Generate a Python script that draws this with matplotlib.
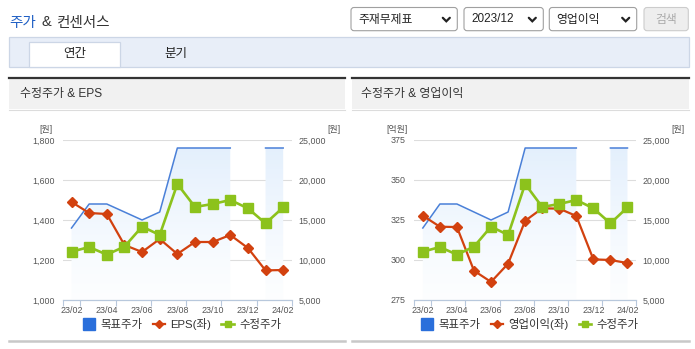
"""
Adjusted price vs. consensus dashboard: two panels comparing the adjusted
stock price and target price with EPS and operating profit.
"""

import matplotlib

matplotlib.use("Agg")
import matplotlib.pyplot as plt
import numpy as np
from matplotlib.lines import Line2D
from matplotlib.patches import FancyBboxPatch, Rectangle
from matplotlib.path import Path

plt.rcParams["font.family"] = ["Liberation Sans", "Noto Sans CJK KR", "DejaVu Sans"]

W, H = 695, 349

months = ["23/02", "23/03", "23/04", "23/05", "23/06", "23/07", "23/08",
          "23/09", "23/10", "23/11", "23/12", "24/01", "24/02"]

# right axis (원)
target_price = [14000, 17000, 17000, 16000, 15000, 16000, 24000,
                24000, 24000, 24000, np.nan, 24000, 24000]
adj_price = [11040, 11620, 10670, 11670, 14170, 13130, 19500,
             16630, 17000, 17500, 16460, 14580, 16580]

# left axis values
eps = [1490, 1435, 1430, 1275, 1240, 1305, 1230, 1290, 1290, 1325, 1260, 1148, 1150]
op_profit = [327.7, 320.8, 320.6, 293.3, 286.3, 297.7, 324.5,
             332.3, 332.1, 327.5, 300.4, 300.0, 298.1]

BLUE = "#4a80d8"
RED = "#d2410f"
GREEN = "#8cc21c"
TICK_GRAY = "#555555"
AXIS_LINE = "#b8c8dc"


def px_rect(x0, y0, x1, y1):
    return [x0 / W, 1 - y1 / H, (x1 - x0) / W, (y1 - y0) / H]


def draw_chart(fig, ui, x0, x1, left_vals, left_ticks, left_unit, left_name):
    ax = fig.add_axes(px_rect(x0, 140, x1, 300))
    ax2 = ax.twinx()
    x = np.arange(len(months))
    tr = ax2.transData

    # target price area with a soft vertical gradient
    area = ax.fill_between(x, target_price, 5000, transform=tr,
                           facecolor="none", edgecolor="none", zorder=1)
    grad = np.linspace(0, 1, 256)[:, None, None]
    top = np.array([0.885, 0.935, 0.99])
    bottom = np.array([0.99, 0.995, 1.0])
    img = bottom * (1 - grad ** 1.3) + top * grad ** 1.3
    im = ax.imshow(img, extent=(-0.5, 12.5, left_ticks[0], left_ticks[-1]),
                   origin="lower", aspect="auto", zorder=1, interpolation="bilinear")
    im.set_clip_path(Path.make_compound_path(*area.get_paths()), tr)
    ax.plot(x, target_price, color=BLUE, lw=1.1, transform=tr, zorder=2)

    ax.plot(x, left_vals, color=RED, lw=1.6, marker="D", markersize=4.6, zorder=3)
    ax2.plot(x, adj_price, color=GREEN, lw=1.9, marker="s", markersize=7)

    ax.set_xlim(-0.5, 12.5)
    ax.set_ylim(left_ticks[0], left_ticks[-1])
    ax2.set_ylim(5000, 25000)

    ax.set_yticks(left_ticks)
    ax.set_yticklabels([f"{v:,}" for v in left_ticks])
    ax2.set_yticks([5000, 10000, 15000, 20000, 25000])
    ax2.set_yticklabels([f"{v:,}" for v in [5000, 10000, 15000, 20000, 25000]])
    ax.yaxis.grid(True, color="#dddddd", lw=0.8)
    ax.set_axisbelow(True)

    ax.set_xticks(x[::2])
    ax.set_xticklabels(months[::2])
    ax.set_xticks(np.r_[-0.5, np.arange(0.5, 12, 2), 12.5], minor=True)
    ax.tick_params(axis="x", which="major", length=0, pad=4.5,
                   labelsize=6.4, labelcolor=TICK_GRAY)
    ax.tick_params(axis="x", which="minor", length=4, width=0.8, color=AXIS_LINE)
    ax.tick_params(axis="y", length=0, pad=6, labelsize=6.4, labelcolor=TICK_GRAY)
    ax2.tick_params(axis="y", length=0, pad=4.5, labelsize=6.4, labelcolor=TICK_GRAY)

    for s in ["top", "left", "right"]:
        ax.spines[s].set_visible(False)
    ax.spines["bottom"].set_color(AXIS_LINE)
    ax.spines["bottom"].set_linewidth(0.9)
    for s in ax2.spines.values():
        s.set_visible(False)
    ax.set_facecolor("white")

    ui.text(x0 - 17, 130, left_unit, ha="center", va="center", size=6.4, color=TICK_GRAY)
    ui.text(x1 + 42, 130, "[원]", ha="center", va="center", size=6.4, color=TICK_GRAY)

    handles = [
        Line2D([], [], color="#2a6fdb", marker="s", ls="none", markersize=8.5),
        Line2D([], [], color=RED, lw=1.6, marker="D", markersize=3.6),
        Line2D([], [], color=GREEN, lw=1.9, marker="s", markersize=4.8),
    ]
    leg = ax.legend(handles, ["목표주가", f"{left_name}(좌)", "수정주가"],
                    loc="center", bbox_to_anchor=(0.52, -0.152), ncol=3,
                    frameon=False, fontsize=8.2, handlelength=1.1,
                    handletextpad=0.45, columnspacing=0.9, borderpad=0)
    for t in leg.get_texts():
        t.set_color("#333333")
    return ax, ax2


def draw_dropdown(ui, x0, x1, label):
    ui.add_patch(FancyBboxPatch((x0, 7.5), x1 - x0, 23.2,
                                boxstyle="round,pad=0,rounding_size=3",
                                facecolor="white", edgecolor="#a0a0a0", lw=0.8))
    ui.text(x0 + 7, 19.5, label, va="center", ha="left", size=8.5, color="#222222")
    cx = x1 - 11
    ui.plot([cx - 3.5, cx, cx + 3.5], [17.8, 21.3, 17.8], color="#222222", lw=1.6,
            solid_capstyle="round", solid_joinstyle="miter")


def draw_panel_frame(ui, x0, x1, title, text_x):
    ui.plot([x0, x1], [77.7, 77.7], color="#333333", lw=1.6)
    ui.add_patch(Rectangle((x0, 78.6), x1 - x0, 30.6, facecolor="#f1f1f1",
                           edgecolor="none"))
    ui.plot([x0, x1], [109.5, 109.5], color="#dcdcdc", lw=0.8)
    ui.text(text_x, 94.5, title, va="center", ha="left", size=8.6, color="#333333")
    ui.plot([x0, x1], [341, 341], color="#c8c8c8", lw=1.8)


fig = plt.figure(figsize=(W / 100, H / 100), dpi=100)
ui = fig.add_axes([0, 0, 1, 1])
ui.set_xlim(0, W)
ui.set_ylim(H, 0)
ui.axis("off")

# page header
ui.text(9.3, 22.5, "주가", color="#1f5fc4", size=10.5, va="center", ha="left")
ui.text(41.5, 22.5, "&", color="#333333", size=10.5, va="center", ha="left")
ui.text(57.3, 22.5, "컨센서스", color="#333333", size=10.5, va="center", ha="left")

draw_dropdown(ui, 351, 457.3, "주재무제표")
draw_dropdown(ui, 464, 543.3, "2023/12")
draw_dropdown(ui, 549.3, 636.7, "영업이익")
ui.add_patch(FancyBboxPatch((644, 7.5), 44.3, 23.2,
                            boxstyle="round,pad=0,rounding_size=3",
                            facecolor="#eeeeee", edgecolor="#cccccc", lw=0.8))
ui.text(666, 19.5, "검색", ha="center", va="center", size=8.5, color="#aaaaaa")

# annual / quarterly tabs
ui.add_patch(Rectangle((9.3, 37.3), 679.4, 29.4, facecolor="#e8eef8",
                       edgecolor="#ccd6e6", lw=0.9))
ui.add_patch(Rectangle((29.3, 42.3), 90.7, 24.4, facecolor="white",
                       edgecolor="#ccd6e6", lw=0.9))
ui.text(75, 54, "연간", ha="center", va="center", size=9, color="#222222")
ui.text(175.7, 54, "분기", ha="center", va="center", size=9, color="#222222")

draw_panel_frame(ui, 9.3, 345.3, "수정주가 & EPS", 20)
draw_panel_frame(ui, 352, 688.5, "수정주가 & 영업이익", 361)

draw_chart(fig, ui, 62.7, 292, eps, [1000, 1200, 1400, 1600, 1800], "[원]", "EPS")
draw_chart(fig, ui, 414.3, 636, op_profit, [275, 300, 325, 350, 375], "[억원]", "영업이익")

fig.savefig("out.png", dpi=100)
